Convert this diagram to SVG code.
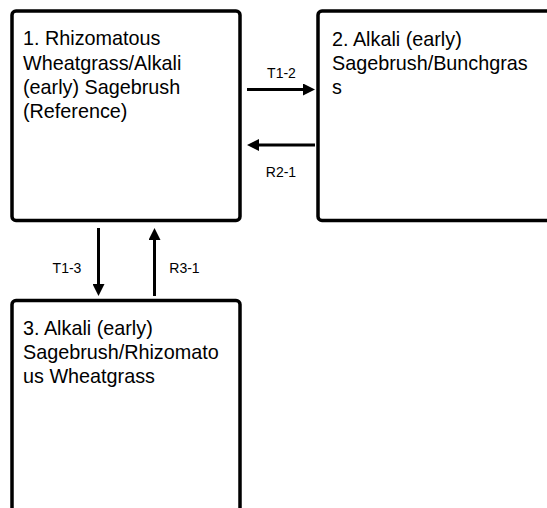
<svg xmlns="http://www.w3.org/2000/svg" width="547" height="508" viewBox="0 0 547 508">
<style>
.box{fill:#fff;stroke:#000;stroke-width:3.5}
.nt{font-family:"Liberation Sans",Arial,sans-serif;font-size:19.8px;fill:#000}
.lb{font-family:"Liberation Sans",Arial,sans-serif;font-size:14px;fill:#000;text-anchor:middle}
.ar{stroke:#000;stroke-width:3;fill:none;marker-end:url(#ah)}
</style>
<defs>
<marker id="ah" markerUnits="userSpaceOnUse" markerWidth="12" markerHeight="12" refX="0" refY="6" orient="auto">
<path d="M0,0 L12,6 L0,12 z" fill="#000"/>
</marker>
</defs>
<rect width="547" height="508" fill="#fff"/>
<g id="node1">
<rect class="box" x="12" y="11" width="228" height="209.5" rx="4"/>
<text class="nt" x="23" y="45">1. Rhizomatous</text>
<text class="nt" x="23" y="69.5">Wheatgrass/Alkali</text>
<text class="nt" x="23" y="94">(early) Sagebrush</text>
<text class="nt" x="23" y="118">(Reference)</text>
</g>
<g id="node2">
<rect class="box" x="318" y="11" width="250" height="209.5" rx="4"/>
<text class="nt" x="332" y="46">2. Alkali (early)</text>
<text class="nt" x="332" y="70">Sagebrush/Bunchgras</text>
<text class="nt" x="332" y="94">s</text>
</g>
<g id="node3">
<rect class="box" x="12" y="300.5" width="228" height="240" rx="4"/>
<text class="nt" x="23" y="335">3. Alkali (early)</text>
<text class="nt" x="23" y="359">Sagebrush/Rhizomato</text>
<text class="nt" x="23" y="383">us Wheatgrass</text>
</g>
<g id="connectors">
<line class="ar" x1="247" y1="89.5" x2="303" y2="89.5"/>
<line class="ar" x1="315" y1="145" x2="259" y2="145"/>
<line class="ar" x1="98.5" y1="228" x2="98.5" y2="284"/>
<line class="ar" x1="154.5" y1="296" x2="154.5" y2="240"/>
<text class="lb" x="281.5" y="78">T1-2</text>
<text class="lb" x="281" y="177">R2-1</text>
<text class="lb" x="67" y="273">T1-3</text>
<text class="lb" x="184.5" y="273">R3-1</text>
</g>
</svg>
